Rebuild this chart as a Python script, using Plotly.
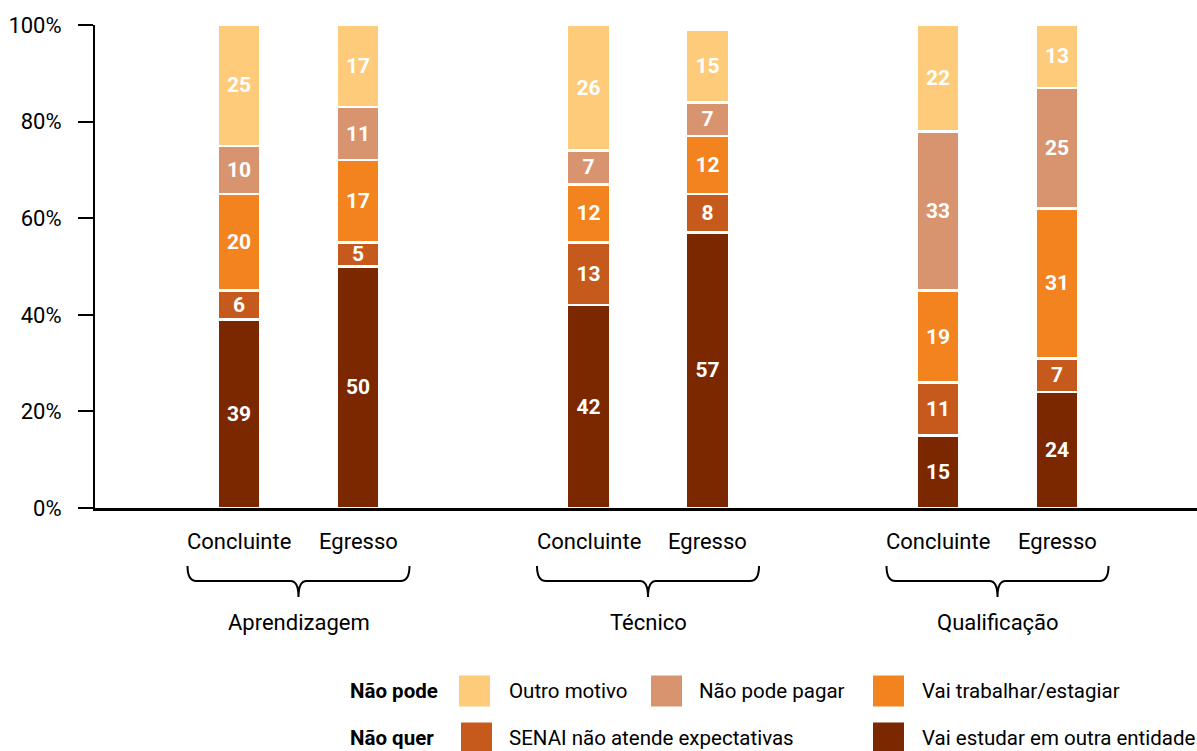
import plotly.graph_objects as go

groups = ["Aprendizagem", "Técnico", "Qualificação"]
subgroups = ["Concluinte", "Egresso"]

# values bottom -> top, order: Apr-Conc, Apr-Egr, Tec-Conc, Tec-Egr, Qual-Conc, Qual-Egr
vai_estudar = [39, 50, 42, 57, 15, 24]
senai = [6, 5, 13, 8, 11, 7]
vai_trabalhar = [20, 17, 12, 12, 19, 31]
nao_pode_pagar = [10, 11, 7, 7, 33, 25]
outro_motivo = [25, 17, 26, 15, 22, 13]

series_names = ["Vai estudar em outra entidade", "SENAI não atende expectativas",
                "Vai trabalhar/estagiar", "Não pode pagar", "Outro motivo"]
series_values = [vai_estudar, senai, vai_trabalhar, nao_pode_pagar, outro_motivo]
colors = ["#7B2800", "#C65A1C", "#F3831F", "#D8946E", "#FECB7B"]

y_ticks = [0, 20, 40, 60, 80, 100]
y_tick_labels = ["0%", "20%", "40%", "60%", "80%", "100%"]

FONT = "Roboto, Liberation Sans, sans-serif"
FS = 22
LFS = 20.5

W, H = 1197, 751
ML, MR, MT, MB = 95, 0, 25, 243
PW = W - ML - MR
PH = H - MT - MB

def ypap(py):
    return (H - MB - py) / PH

def xpap(px):
    return (px - ML) / PW

# layout positions (x axis in pixel-like units)
first_center = 203.5
group_gap = 349.5
sub_off = 59.5
bar_w = 43

xpos = []
for gi in range(len(groups)):
    c = first_center + gi * group_gap
    for si in range(len(subgroups)):
        xpos.append(c + (si - 0.5) * 2 * sub_off)

fig = go.Figure()
for name, vals, col in zip(series_names, series_values, colors):
    fig.add_trace(go.Bar(
        x=xpos, y=vals, name=name, width=bar_w,
        marker=dict(color=col, line=dict(color="white", width=2.5)),
        text=[str(v) for v in vals], textposition="inside",
        insidetextanchor="middle", textangle=0,
        textfont=dict(color="white", size=21, family=FONT, weight="bold"),
        showlegend=False, hoverinfo="skip",
    ))

annotations = []
shapes = []

# category labels and braces
for gi, g in enumerate(groups):
    c = first_center + gi * group_gap
    for si, s in enumerate(subgroups):
        annotations.append(dict(x=c + (si - 0.5) * 2 * sub_off, y=ypap(541), xref="x", yref="paper",
                                text=s, showarrow=False, font=dict(size=FS, family=FONT, color="black"),
                                xanchor="center", yanchor="middle"))
    annotations.append(dict(x=c, y=ypap(622), xref="x", yref="paper", text=g, showarrow=False,
                            font=dict(size=FS, family=FONT, color="black"),
                            xanchor="center", yanchor="middle"))
    x0, x1 = c - 111, c + 111
    yt, ym, yb = ypap(566), ypap(581), ypap(597)
    path = (f"M {x0},{yt} Q {x0},{ym} {x0+9},{ym} L {c-8},{ym} Q {c},{ym} {c},{yb} "
            f"Q {c},{ym} {c+8},{ym} L {x1-9},{ym} Q {x1},{ym} {x1},{yt}")
    shapes.append(dict(type="path", path=path, xref="x", yref="paper",
                       line=dict(color="black", width=2)))

# manual legend
legend_rows = [
    (691, "Não pode", [(459, 507, "Outro motivo", colors[4]),
                       (651, 697, "Não pode pagar", colors[3]),
                       (873, 920, "Vai trabalhar/estagiar", colors[2])]),
    (738, "Não quer", [(461, 507, "SENAI não atende expectativas", colors[1]),
                       (873, 920, "Vai estudar em outra entidade", colors[0])]),
]
for cy, title, items in legend_rows:
    annotations.append(dict(x=xpap(348), y=ypap(cy), xref="paper", yref="paper",
                            text=f"<b>{title}</b>", showarrow=False, xanchor="left", yanchor="middle",
                            font=dict(size=LFS, family=FONT, color="black")))
    for sx, tx, label, col in items:
        shapes.append(dict(type="rect", xref="paper", yref="paper",
                           x0=xpap(sx), x1=xpap(sx + 31), y0=ypap(cy - 15.5), y1=ypap(cy + 15.5),
                           fillcolor=col, line=dict(width=0)))
        annotations.append(dict(x=xpap(tx), y=ypap(cy), xref="paper", yref="paper",
                                text=label, showarrow=False, xanchor="left", yanchor="middle",
                                font=dict(size=LFS, family=FONT, color="black")))

fig.update_layout(
    barmode="stack",
    width=W, height=H,
    margin=dict(l=ML, r=MR, t=MT, b=MB, autoexpand=False),
    paper_bgcolor="white", plot_bgcolor="white",
    font=dict(family=FONT, size=FS, color="black"),
    uniformtext=dict(mode="show", minsize=21),
    hovermode=False,
    xaxis=dict(range=[0, PW], showticklabels=False, showgrid=False, zeroline=False,
               showline=True, linecolor="black", linewidth=3, ticks="", fixedrange=True),
    yaxis=dict(range=[0, 100], tickvals=y_ticks, ticktext=y_tick_labels, showgrid=False,
               zeroline=False, showline=True, linecolor="black", linewidth=2,
               ticks="outside", ticklen=15, tickwidth=2, tickcolor="black",
               ticklabelstandoff=12, fixedrange=True,
               tickfont=dict(size=FS, family=FONT, color="black")),
    annotations=annotations,
    shapes=shapes,
)

fig.write_html("out.html", config={"displayModeBar": False},
               post_script="document.body.style.margin='0';document.body.style.overflow='hidden';")
